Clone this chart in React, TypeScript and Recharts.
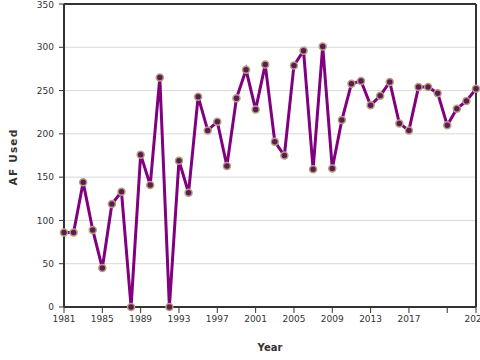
import { CartesianGrid, Label, Line, LineChart, ReferenceLine, XAxis, YAxis } from "recharts";

const years = [
  1981, 1982, 1983, 1984, 1985, 1986, 1987, 1988, 1989, 1990, 1991, 1992, 1993, 1994, 1995,
  1996, 1997, 1998, 1999, 2000, 2001, 2002, 2003, 2004, 2005, 2006, 2007, 2008, 2009, 2010,
  2011, 2012, 2013, 2014, 2015, 2016, 2017, 2018, 2019, 2020, 2021, 2022, 2023, 2024,
];
const afUsed = [
  86, 86, 144, 89, 45, 119, 133, 0, 176, 141, 265, 0, 169, 132, 243,
  204, 214, 163, 241, 274, 228, 280, 191, 175, 279, 296, 159, 301, 160, 216,
  258, 261, 233, 244, 260, 212, 204, 254, 254, 247, 210, 229, 238, 252,
];
const xTicks = [1981, 1985, 1989, 1993, 1997, 2001, 2005, 2009, 2013, 2017, 2021, 2024];
const yTicks = [0, 50, 100, 150, 200, 250, 300, 350];

const data = years.map((year, i) => ({ year, value: afUsed[i] }));

const font = "'DejaVu Sans', sans-serif";
const axisColor = "#333";

export default function App() {
  return (
    <div style={{ position: "absolute", left: 0, top: 0, width: 480, height: 360 }}>
      <LineChart width={480} height={360} data={data} margin={{ top: 4, right: 4, left: 0, bottom: 14 }}>
        <CartesianGrid stroke="#d9d9d9" vertical={false} />
        <XAxis
          dataKey="year"
          type="number"
          domain={[1981, 2024]}
          ticks={xTicks}
          interval={0}
          height={39}
          tickSize={6}
          tickMargin={3}
          tickFormatter={(v) => (v === 2021 ? "" : String(v))}
          tick={{ fill: axisColor, fontSize: 9, fontFamily: font }}
          axisLine={{ stroke: axisColor, strokeWidth: 2 }}
          tickLine={{ stroke: axisColor }}
        >
          <Label
            content={() => (
              <text x={270} y={351} textAnchor="middle" fontFamily={font} fontSize={10} fontWeight="bold" fill={axisColor}>
                Year
              </text>
            )}
          />
        </XAxis>
        <YAxis
          domain={[0, 350]}
          ticks={yTicks}
          width={64}
          tickSize={5}
          tickMargin={5}
          tick={{ fill: axisColor, fontSize: 9, fontFamily: font }}
          axisLine={{ stroke: axisColor, strokeWidth: 2 }}
          tickLine={{ stroke: axisColor }}
        >
          <Label
            content={() => (
              <text
                x={17}
                y={157}
                transform="rotate(-90 17 157)"
                textAnchor="middle"
                fontFamily={font}
                fontSize={10.5}
                fontWeight="bold"
                letterSpacing={1.2}
                fill={axisColor}
              >
                AF Used
              </text>
            )}
          />
        </YAxis>
        <ReferenceLine y={350} stroke={axisColor} strokeWidth={2} />
        <ReferenceLine x={2024} stroke={axisColor} strokeWidth={2} />
        <Line
          dataKey="value"
          type="linear"
          stroke="#800080"
          strokeWidth={3}
          dot={{ r: 3.5, fill: "#5e1b52", stroke: "#b3a07e", strokeWidth: 1.5 }}
          isAnimationActive={false}
        />
      </LineChart>
    </div>
  );
}
